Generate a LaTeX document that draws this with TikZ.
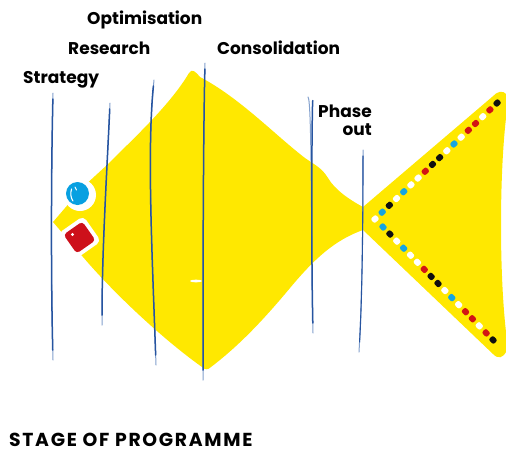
\documentclass[tikz,border=0pt]{standalone}
\usepackage{fontspec}
\setmainfont{Poppins}
\definecolor{fishyellow}{RGB}{255,232,0}
\definecolor{penblue}{RGB}{38,84,160}
\definecolor{penlight}{RGB}{130,160,205}
\definecolor{eyeblue}{RGB}{8,160,225}
\definecolor{mouthred}{RGB}{205,16,26}
\definecolor{dotw}{RGB}{255,255,255}
\definecolor{dotb}{RGB}{20,165,225}
\definecolor{dotr}{RGB}{210,20,20}
\definecolor{dotk}{RGB}{15,15,15}
\tikzset{
  lab/.style={inner sep=0pt, font=\fontsize{17}{20}\selectfont\bfseries, text=black},
  penfaint/.style={draw=penlight, line width=1.0pt, line cap=round},
  pen/.style={draw=penblue, line width=1.5pt, line cap=round, shorten <=6pt, shorten >=10pt},
  bead/.style={rounded corners=2pt, minimum width=6.8pt, minimum height=6pt, inner sep=0pt, draw=none}
}
\begin{document}
\begin{tikzpicture}[x=1pt,y=-1pt]
\useasboundingbox (0,0) rectangle (506,453);
\begin{scope}
\clip (0,0) rectangle (506,453);
% fish body and tail
\fill[fishyellow] (53,222) -- (83,187) -- (107,165)
  .. controls (135,137) and (170,105) .. (189,73)
  .. controls (192,68) and (196,72) .. (200,77)
  .. controls (240,98) and (275,135) .. (305,158)
  .. controls (315,165) and (322,168) .. (328,178)
  .. controls (335,190) and (350,200) .. (363,207)
  -- (492,97) .. controls (497,92) and (502,89) .. (507,95)
  -- (507,110) .. controls (499,170) and (499,280) .. (507,340)
  -- (507,350) .. controls (503,359) and (498,359) .. (493,354)
  -- (363,230)
  .. controls (335,240) and (315,258) .. (290,288)
  .. controls (265,318) and (240,345) .. (211,367)
  .. controls (208,370) and (205,370) .. (202,367)
  .. controls (168,343) and (118,298) .. (83,257) -- cycle;
\end{scope}
% small highlight on the body
\fill[white] (196,281) ellipse (6 and 1.3);
% eye
\fill[white] (80,195) circle (16);
\fill[eyeblue] (77.5,193.5) circle (11.5);
\draw[white, line width=1.1pt, line cap=round] (71.5,189) .. controls (70,194) and (71,198) .. (73,201);
\draw[white, line width=0.9pt, line cap=round] (75,187) -- (76.5,190);
% red mouth marking
\fill[white, rotate around={35:(79.5,237.5)}, rounded corners=5pt] (64,222) rectangle (95,253);
\fill[mouthred, rotate around={35:(79.5,237.5)}, rounded corners=3.5pt] (68,226) rectangle (91,249);
\fill[white] (72.5,234.5) circle (1.7);
% beads along the tail
\foreach \c [count=\i from 0] in {w,b,k,w,b,w,w,r,k,k,w,b,w,r,r,w,r,k}
  \node[bead, fill=dot\c, rotate=43] (up\i) at ({375+7.18*\i},{219-6.82*\i}) {};
\foreach \c [count=\i from 0] in {b,k,w,b,w,w,r,k,k,w,b,w,r,r,w,r,k}
  \node[bead, fill=dot\c, rotate=-46] (lo\i) at ({383+6.875*\i},{227+7.06*\i}) {};
% stage lines
\path[penfaint] (53,93) .. controls (51,180) and (51,280) .. (53,360);
\path[pen] (53,93) .. controls (51,180) and (51,280) .. (53,360);
\path[penfaint] (110,103) .. controls (107,170) and (102,250) .. (102,325);
\path[pen] (110,103) .. controls (107,170) and (102,250) .. (102,325);
\path[penfaint] (154,80) .. controls (147,150) and (152,250) .. (156,365);
\path[pen] (154,80) .. controls (147,150) and (152,250) .. (156,365);
\path[penfaint] (205,63) .. controls (203,150) and (203,300) .. (203,380);
\path[pen] (205,63) .. controls (203,150) and (203,300) .. (203,380);
\path[penfaint] (308,97) .. controls (312,100) and (311,240) .. (313,333);
\path[pen] (308,97) .. controls (312,100) and (311,240) .. (313,333);
\path[penfaint] (363,150) .. controls (363,230) and (362,300) .. (359,352);
\path[pen, line width=1.1pt] (363,150) .. controls (363,230) and (362,300) .. (359,352);
% labels
\node[lab, anchor=base west] (strategy) at (23,83) {Strategy};
\node[lab, anchor=base west] (research) at (68,54) {Research};
\node[lab, anchor=base west] (optimisation) at (87,24) {Optimisation};
\node[lab, anchor=base west] (consolidation) at (217,54) {Consolidation};
\node[lab, anchor=base east] (phase) at (372,117) {Phase};
\node[lab, anchor=base east] (out) at (372,135) {out};
\node[lab, anchor=base west, font=\fontsize{18.8}{22}\selectfont\bfseries\addfontfeature{LetterSpace=9}] (stage) at (9,446) {STAGE OF PROGRAMME};
\end{tikzpicture}
\end{document}
